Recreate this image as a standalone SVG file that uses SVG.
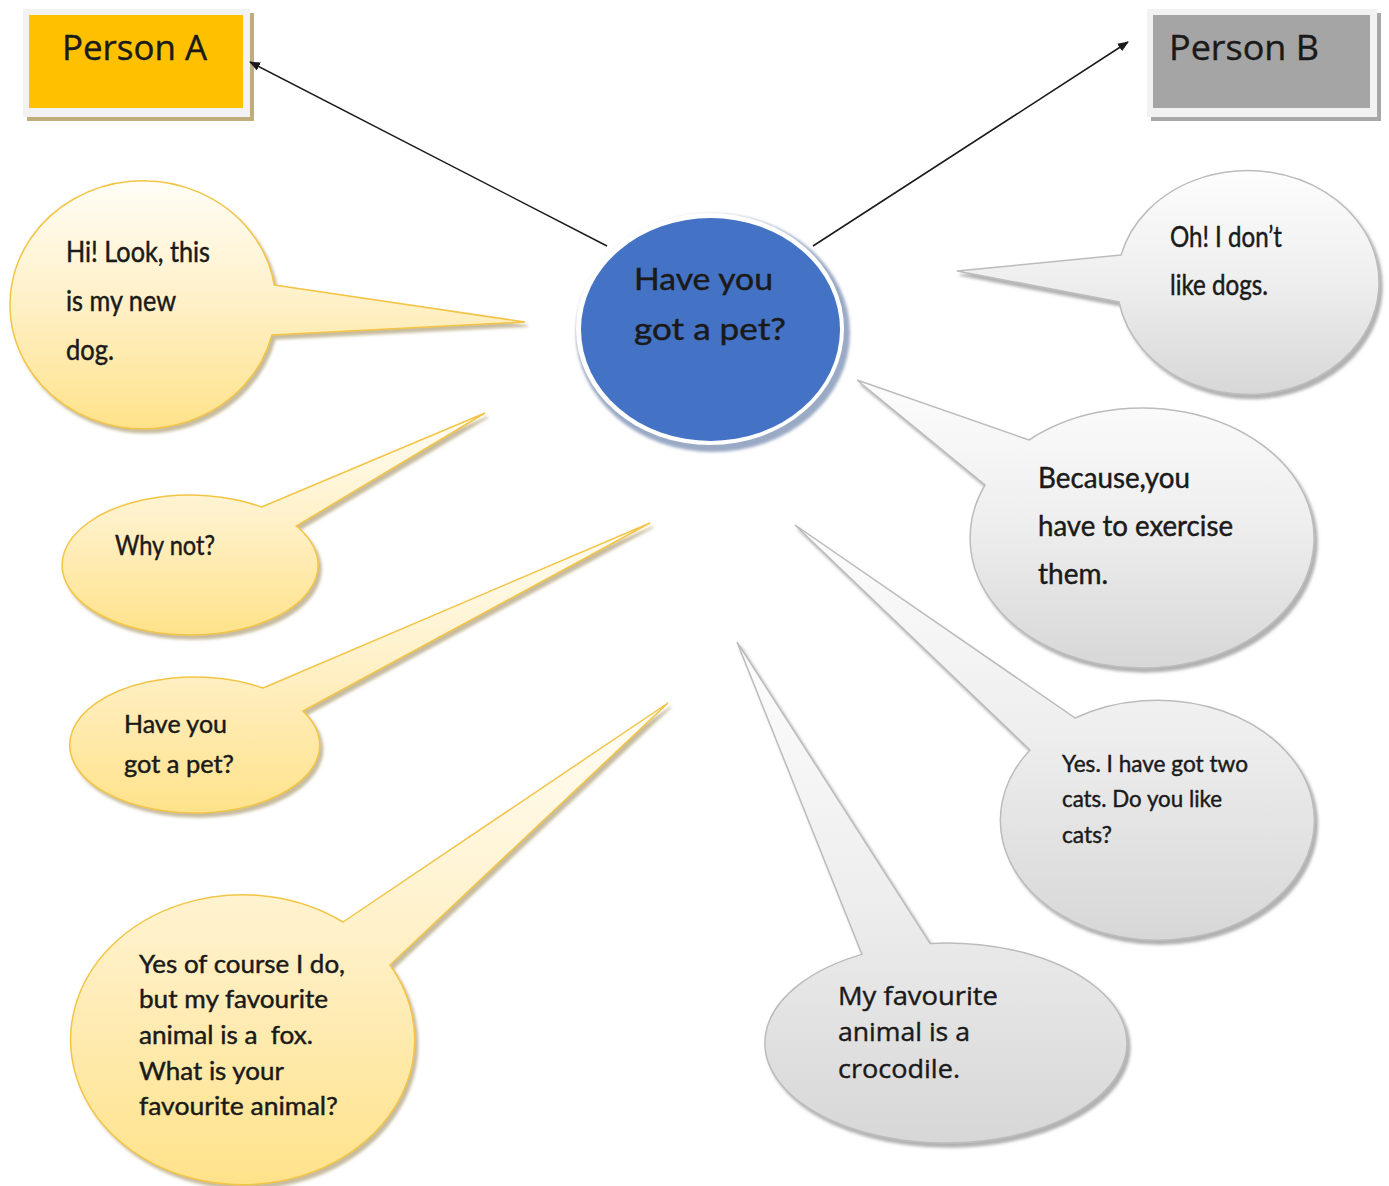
<svg xmlns="http://www.w3.org/2000/svg" width="1389" height="1186" viewBox="0 0 1389 1186">
<defs>
<style>
.by{fill:url(#gy);stroke:#f3c445;stroke-width:1.5;filter:url(#shy);}
.bg{fill:url(#gg);stroke:#bcbcbc;stroke-width:1.5;filter:url(#shg);}
.t{font-family:Lato,"Liberation Sans",sans-serif;fill:#1a1a1a;stroke:#1a1a1a;stroke-width:0.45;}
.o{font-family:"Open Sans","DejaVu Sans",sans-serif;fill:#1a1a1a;stroke:#1a1a1a;stroke-width:0.4;}
.conn{stroke:#1a1a1a;stroke-width:1.5;fill:none;marker-end:url(#ah);}
</style>
<linearGradient id="gy" x1="0" y1="0" x2="0" y2="1">
<stop offset="0" stop-color="#fffdf6"/>
<stop offset="0.5" stop-color="#fff0c6"/>
<stop offset="1" stop-color="#ffe28a"/>
</linearGradient>
<linearGradient id="gg" x1="0" y1="0" x2="0" y2="1">
<stop offset="0" stop-color="#fdfdfd"/>
<stop offset="0.5" stop-color="#eeeeee"/>
<stop offset="1" stop-color="#d7d7d7"/>
</linearGradient>
<filter id="shy" x="-5%" y="-5%" width="115%" height="115%">
<feDropShadow dx="3" dy="4" stdDeviation="1.8" flood-color="#9a8650" flood-opacity="0.55"/>
</filter>
<filter id="shg" x="-5%" y="-5%" width="115%" height="115%">
<feDropShadow dx="3" dy="4" stdDeviation="1.8" flood-color="#707070" flood-opacity="0.55"/>
</filter>
<filter id="blur"><feGaussianBlur stdDeviation="1.5"/></filter>
<marker id="ah" markerUnits="userSpaceOnUse" markerWidth="11" markerHeight="9" refX="10" refY="4.5" orient="auto">
<path d="M0,0 L11,4.5 L0,9 Z" fill="#1a1a1a"/>
</marker>
</defs>
<rect width="1389" height="1186" fill="#ffffff"/>

<g id="personA">
<rect x="27" y="13" width="227" height="108" fill="#bfae7c"/>
<rect x="23" y="9" width="227" height="108" fill="#f2f2f2"/>
<rect x="29" y="15" width="214" height="93" fill="#ffc000"/>
<text class="o" x="62" y="60" font-size="35" textLength="145" lengthAdjust="spacingAndGlyphs">Person A</text>
</g>

<g id="personB">
<rect x="1151" y="13" width="230" height="108" fill="#a8a8a8"/>
<rect x="1147" y="9" width="230" height="108" fill="#f2f2f2"/>
<rect x="1153" y="15" width="217" height="93" fill="#a5a5a5"/>
<text class="o" x="1169" y="60" font-size="35" textLength="150" lengthAdjust="spacingAndGlyphs">Person B</text>
</g>

<g id="connectors">
<line class="conn" x1="607" y1="246" x2="250" y2="62"/>
<line class="conn" x1="813" y1="246" x2="1128" y2="42"/>
</g>

<g id="center">
<ellipse cx="713" cy="333" rx="137" ry="119" fill="#9aa9c4" filter="url(#blur)"/>
<ellipse cx="710" cy="329" rx="134" ry="116" fill="#ffffff"/>
<ellipse cx="710.5" cy="329.5" rx="129.5" ry="111.5" fill="#4472c4"/>
<text class="t" x="634" y="290" font-size="31" textLength="139" lengthAdjust="spacingAndGlyphs">Have you</text>
<text class="t" x="634" y="340" font-size="31" textLength="152" lengthAdjust="spacingAndGlyphs">got a pet?</text>
</g>

<g id="bubbleHi">
<path class="by" d="M274.3,285 L525,322 L272,335 A133,124 0 1 1 274.3,285 Z"/>
<text class="t" x="66" y="262" font-size="28" textLength="144" lengthAdjust="spacingAndGlyphs">Hi! Look, this</text>
<text class="t" x="66" y="311" font-size="28" textLength="110" lengthAdjust="spacingAndGlyphs">is my new</text>
<text class="t" x="66" y="360" font-size="28" textLength="48" lengthAdjust="spacingAndGlyphs">dog.</text>
</g>

<g id="bubbleWhy">
<path class="by" d="M261.6,507 L485,413 L296.3,526 A128,70 0 1 1 261.6,507 Z"/>
<text class="t" x="115" y="555" font-size="26" textLength="100" lengthAdjust="spacingAndGlyphs">Why not?</text>
</g>

<g id="bubbleHave">
<path class="by" d="M263,688 L650,523 L303,711 A125,68 0 1 1 263,688 Z"/>
<text class="t" x="124" y="733" font-size="25" textLength="103" lengthAdjust="spacingAndGlyphs">Have you</text>
<text class="t" x="124" y="773" font-size="25" textLength="110" lengthAdjust="spacingAndGlyphs">got a pet?</text>
</g>

<g id="bubbleYes">
<path class="by" d="M343,922 L668,703 L390,965 A172,145 0 1 1 343,922 Z"/>
<text class="t" x="139" y="973" font-size="25" textLength="206" lengthAdjust="spacingAndGlyphs">Yes of course I do,</text>
<text class="t" x="139" y="1008" font-size="25" textLength="189" lengthAdjust="spacingAndGlyphs">but my favourite</text>
<text class="t" x="139" y="1044" font-size="25" textLength="174" lengthAdjust="spacingAndGlyphs" xml:space="preserve">animal is a  fox.</text>
<text class="t" x="139" y="1080" font-size="25" textLength="145" lengthAdjust="spacingAndGlyphs">What is your</text>
<text class="t" x="139" y="1115" font-size="25" textLength="199" lengthAdjust="spacingAndGlyphs">favourite animal?</text>
</g>

<g id="bubbleOh">
<path class="bg" d="M1121,255 L957,271 L1119,302 A131,112 0 1 0 1121,255 Z"/>
<text class="t" x="1170" y="247" font-size="28" textLength="112" lengthAdjust="spacingAndGlyphs">Oh! I don’t</text>
<text class="t" x="1170" y="295" font-size="28" textLength="98" lengthAdjust="spacingAndGlyphs">like dogs.</text>
</g>

<g id="bubbleBecause">
<path class="bg" d="M1029,440 L857,380 L985,485 A172,130 0 1 0 1029,440 Z"/>
<text class="t" x="1038" y="488" font-size="28" textLength="152" lengthAdjust="spacingAndGlyphs">Because,you</text>
<text class="t" x="1038" y="536" font-size="28" textLength="195" lengthAdjust="spacingAndGlyphs">have to exercise</text>
<text class="t" x="1038" y="584" font-size="28" textLength="70" lengthAdjust="spacingAndGlyphs">them.</text>
</g>

<g id="bubbleCats">
<path class="bg" d="M1075,718 L795,525 L1030,750 A157,120 0 1 0 1075,718 Z"/>
<text class="t" x="1062" y="772" font-size="24" textLength="186" lengthAdjust="spacingAndGlyphs">Yes. I have got two</text>
<text class="t" x="1062" y="807" font-size="24" textLength="160" lengthAdjust="spacingAndGlyphs">cats. Do you like</text>
<text class="t" x="1062" y="843" font-size="24" textLength="50" lengthAdjust="spacingAndGlyphs">cats?</text>
</g>

<g id="bubbleCroc">
<path class="bg" d="M930,943.4 L737,642 L862,954.4 A181,100 0 1 0 930,943.4 Z"/>
<text class="o" x="838" y="1005" font-size="25" textLength="160" lengthAdjust="spacingAndGlyphs">My favourite</text>
<text class="o" x="838" y="1041" font-size="25" textLength="132" lengthAdjust="spacingAndGlyphs">animal is a</text>
<text class="o" x="838" y="1078" font-size="25" textLength="122" lengthAdjust="spacingAndGlyphs">crocodile.</text>
</g>
</svg>
